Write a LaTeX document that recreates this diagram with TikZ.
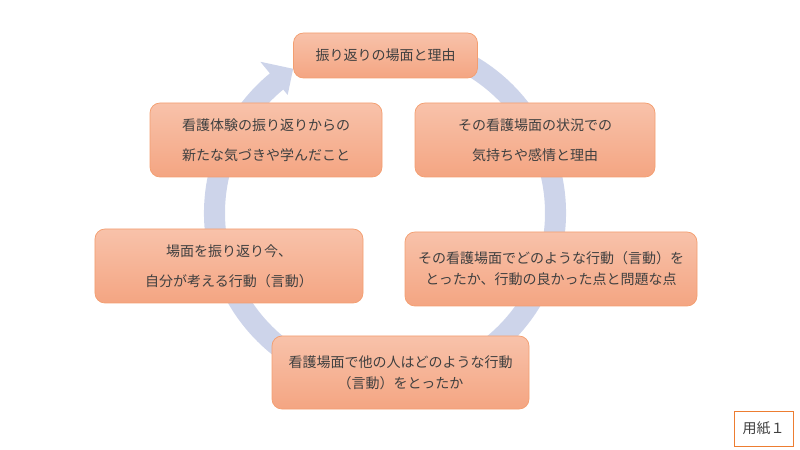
\documentclass[tikz,border=0pt]{standalone}
\usepackage{fontspec}
\usetikzlibrary{calc}
\newfontfamily\jpfont{Noto Sans CJK JP}
\definecolor{ringc}{RGB}{205,212,234}
\definecolor{boxtop}{RGB}{248,194,170}
\definecolor{boxbot}{RGB}{244,165,130}
\definecolor{boxline}{RGB}{243,158,112}
\definecolor{txt}{RGB}{64,64,64}
\definecolor{sheetline}{RGB}{237,125,49}
\tikzset{
  stepbox/.style={rounded corners=10bp, top color=boxtop, bottom color=boxbot,
    draw=boxline, line width=0.75bp, text=txt, align=center, inner sep=0pt},
  loose/.style={font=\jpfont\fontsize{14bp}{30bp}\selectfont},
  tight/.style={font=\jpfont\fontsize{14bp}{21bp}\selectfont},
  sheet/.style={draw=sheetline, line width=1bp, fill=white, text=txt,
    font=\jpfont\fontsize{14bp}{17bp}\selectfont, inner sep=0pt}
}
\begin{document}
\begin{tikzpicture}[x=1bp,y=-1bp]
\useasboundingbox (0,0) rectangle (800,450);
\coordinate (c) at (385,213);
% circular arrow
\fill[ringc] ($(c)+(-75:181)$) arc[start angle=-75,end angle=230.5,radius=181]
  -- ($(c)+(230.5:196)$) -- ($(c)+(237.5:171)$) -- ($(c)+(230.5:153)$)
  -- ($(c)+(230.5:160)$) arc[start angle=230.5,end angle=-75,radius=160] -- cycle;
% boxes
\node[stepbox, loose, minimum width=184bp, minimum height=45bp] (b1) at (385.5,55.5) {振り返りの場面と理由};
\node[stepbox, loose, minimum width=240bp, minimum height=74bp] (b2) at (535,140) {その看護場面の状況での\\気持ちや感情と理由};
\node[stepbox, tight, minimum width=292bp, minimum height=74bp] (b3) at (551,269) {その看護場面でどのような行動（言動）を\\とったか、行動の良かった点と問題な点};
\node[stepbox, tight, minimum width=257bp, minimum height=73bp] (b4) at (400.5,372.5) {看護場面で他の人はどのような行動\\（言動）をとったか};
\node[stepbox, loose, minimum width=268bp, minimum height=74bp] (b5) at (229,266) {場面を振り返り今、\\自分が考える行動（言動）};
\node[stepbox, loose, minimum width=232bp, minimum height=74bp] (b6) at (266,140) {看護体験の振り返りからの\\新たな気づきや学んだこと};
% sheet label
\node[sheet, minimum width=59bp, minimum height=35bp] (s) at (763.5,428.5) {用紙１};
\end{tikzpicture}
\end{document}
